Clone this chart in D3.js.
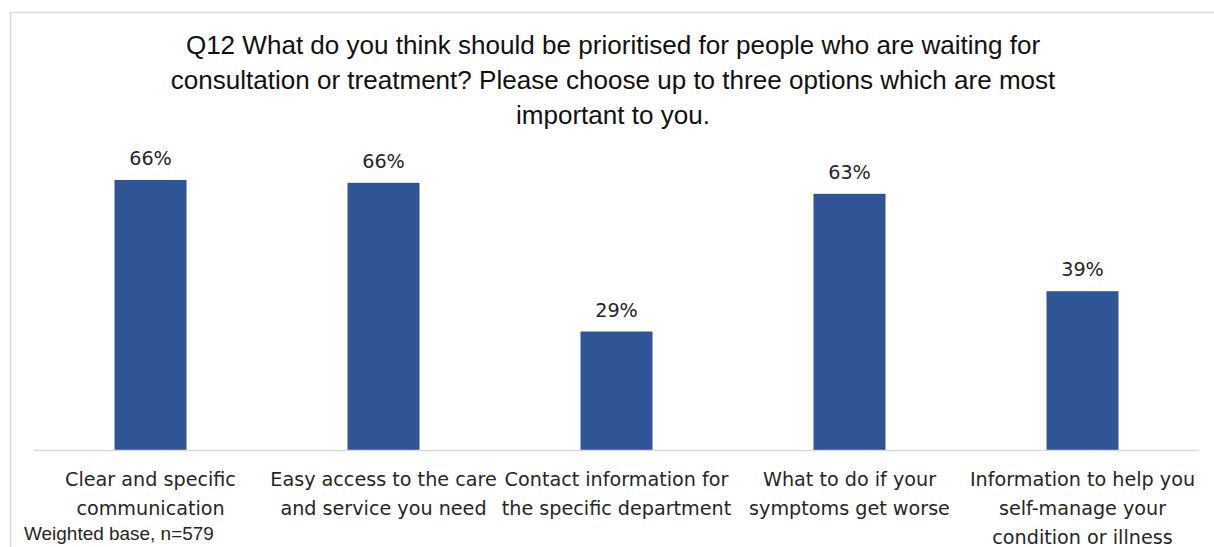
<!DOCTYPE html>
<html>
<head>
<meta charset="utf-8">
<script src="https://cdn.jsdelivr.net/npm/d3@7"></script>
<style>
  html, body { margin: 0; padding: 0; background: #fff; }
  svg { display: block; }
</style>
</head>
<body>
<svg id="chart" width="1214" height="547"></svg>
<script>
// Survey question and answer options
const titleLines = [
  "Q12 What do you think should be prioritised for people who are waiting for",
  "consultation or treatment? Please choose up to three options which are most",
  "important to you."
];
const categories = [
  ["Clear and specific", "communication"],
  ["Easy access to the care", "and service you need"],
  ["Contact information for", "the specific department"],
  ["What to do if your", "symptoms get worse"],
  ["Information to help you", "self-manage your", "condition or illness"]
];
// Share of respondents choosing each option (%)
const values = [66.4, 65.7, 29.2, 63.0, 39.1];
const baseNote = "Weighted base, n=579";

const svg = d3.select("#chart");
const W = 1214, H = 547;
const margin = { left: 34, right: 15, baseline: 450.5, top: 165.3 };

// Set a font size so that one reference string spans the given width
function fitSize(family, text, target) {
  const t = svg.append("text").attr("font-family", family).attr("font-size", 100).text(text);
  const w = t.node().getComputedTextLength();
  t.remove();
  return 100 * target / w;
}

const titleFont = "'Liberation Sans', Arial, sans-serif";
const labelFont = "'DejaVu Sans', Verdana, sans-serif";
const titleSize = fitSize(titleFont, titleLines[0], 855);
const labelSize = fitSize(labelFont, categories[2][0], 224);
const noteSize = fitSize(titleFont, baseNote, 190);

// Chart frame (left and top edges)
svg.append("path")
  .attr("d", `M10.5,${H} L10.5,12.5 L${W},12.5`)
  .attr("fill", "none")
  .attr("stroke", "#d9d9d9")
  .attr("stroke-width", 1.5);

const x = d3.scaleBand()
  .domain(d3.range(categories.length))
  .range([margin.left, W - margin.right])
  .paddingInner(0.691)
  .paddingOuter(0.3455);

const y = d3.scaleLinear()
  .domain([0, 70])
  .range([margin.baseline, margin.top]);

// Title
svg.append("g")
  .selectAll("text")
  .data(titleLines)
  .join("text")
  .attr("x", 613)
  .attr("y", (d, i) => 54 + i * 35)
  .attr("text-anchor", "middle")
  .attr("font-family", titleFont)
  .attr("font-size", titleSize)
  .attr("fill", "#111")
  .text(d => d);

// Bars
svg.append("g")
  .selectAll("rect")
  .data(values)
  .join("rect")
  .attr("x", (d, i) => x(i))
  .attr("y", d => y(d))
  .attr("width", x.bandwidth())
  .attr("height", d => y(0) - y(d))
  .attr("fill", "#2f5597");

// Value labels
svg.append("g")
  .selectAll("text")
  .data(values)
  .join("text")
  .attr("x", (d, i) => x(i) + x.bandwidth() / 2)
  .attr("y", d => y(d) - 15)
  .attr("text-anchor", "middle")
  .attr("font-family", labelFont)
  .attr("font-size", labelSize)
  .attr("fill", "#262626")
  .text(d => Math.round(d) + "%");

// Category axis
const xAxis = d3.axisBottom(x).tickSize(0).tickFormat("");
const axisG = svg.append("g")
  .attr("transform", `translate(0,${margin.baseline})`)
  .call(xAxis);
axisG.select(".domain")
  .attr("stroke", "#d9d9d9")
  .attr("stroke-width", 1.5)
  .attr("d", `M${margin.left},0H${W - margin.right}`);

axisG.selectAll(".tick").each(function(i) {
  const t = d3.select(this).append("text")
    .attr("text-anchor", "middle")
    .attr("font-family", labelFont)
    .attr("font-size", labelSize)
    .attr("fill", "#262626");
  categories[i].forEach((line, k) => {
    t.append("tspan").attr("x", 0).attr("y", 35 + k * 29).text(line);
  });
});

// Base note
svg.append("text")
  .attr("x", 24)
  .attr("y", 540)
  .attr("font-family", titleFont)
  .attr("font-size", noteSize)
  .attr("fill", "#262626")
  .text(baseNote);
</script>
</body>
</html>
